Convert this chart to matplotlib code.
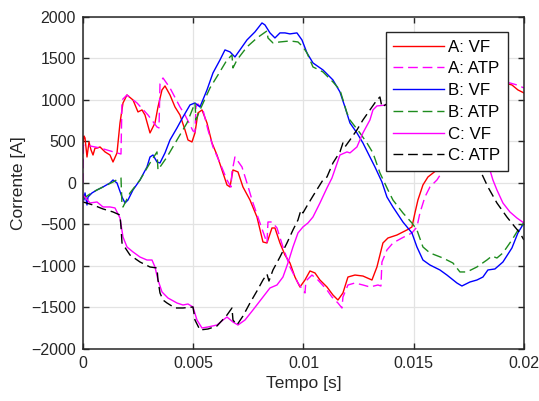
import numpy as np
import matplotlib.pyplot as plt

plt.rcParams['font.family'] = ['Liberation Sans', 'DejaVu Sans']

# time in ms, current in A
a_vf_t = [0, 0.045, 0.091, 0.181, 0.272, 0.363, 0.454, 0.544, 0.635, 0.771, 1.0, 1.224, 1.361, 1.542,
          1.678, 1.814, 1.995, 2.268, 2.494, 2.676, 2.812, 3.039, 3.265, 3.401, 3.583, 3.719, 3.946,
          4.172, 4.399, 4.626, 4.762, 4.943, 5.079, 5.215, 5.397, 5.624, 5.851, 6.077, 6.304, 6.531,
          6.667, 6.803, 7.029, 7.256, 7.574, 7.891, 8.163, 8.345, 8.571, 8.707, 8.934, 9.161, 9.388,
          9.615, 9.841, 10.068, 10.295, 10.522, 10.748, 11.066, 11.338, 11.565, 11.791, 12.018,
          12.336, 12.698, 13.107, 13.333, 13.605, 13.832, 14.240, 14.694, 14.921, 15.057, 15.193,
          15.420, 15.646, 16.054, 16.644, 17.324, 18.005, 18.685, 19.138, 19.456, 19.728, 20.0]
a_vf = [482, 566, 542, 313, 494, 398, 337, 420, 420, 434, 374, 337, 253, 362,
        723, 964, 1060, 1000, 856, 880, 819, 603, 723, 916, 1121, 1169, 1060,
        916, 819, 639, 518, 494, 603, 844, 880, 723, 482, 337, 157, -24,
        -48, 157, 133, -48, -205, -410, -711, -723, -542, -542, -723, -868, -964,
        -1133, -1253, -1169, -1060, -1084, -1169, -1253, -1350, -1410, -1325, -1133,
        -1109, -1121, -1169, -1012, -723, -663, -627, -566, -530, -361, -205,
        -24, 72, 157, 458, 819, 1060, 1181, 1205, 1181, 1121, 1085]

a_atp_t = [0, 0.02, 0.091, 0.771, 1.542, 1.723, 1.769, 1.995, 2.449, 2.948, 3.356, 3.447, 3.492,
           3.628, 3.946, 4.399, 4.626, 4.989, 5.079, 5.125, 5.215, 5.442, 5.669, 5.896, 6.213,
           6.531, 6.712, 6.757, 6.893, 7.211, 7.437, 7.710, 8.027, 8.345, 8.390, 8.571, 8.798,
           9.070, 9.388, 9.751, 10.068, 10.113, 10.385, 10.658, 11.066, 11.293, 11.565, 11.746,
           11.791, 12.018, 12.336, 12.698, 13.016, 13.379, 13.515, 13.560, 13.787, 14.059, 14.467,
           14.921, 15.147, 15.283, 15.510, 15.737, 16.054, 16.644, 17.324, 18.005, 18.549, 18.912,
           19.365, 19.683, 20.0]
a_atp = [0, 458, 458, 422, 362, 349, 1000, 1060, 964, 819, 675, 663, 1193,
         1265, 1145, 916, 819, 627, 615, 916, 952, 880, 639, 434, 241,
         36, -48, 133, 313, 193, 0, -241, -482, -723, -470, -470, -542,
         -771, -1012, -1205, -1325, -1181, -1109, -1169, -1289, -1374, -1446, -1506,
         -1374, -1229, -1205, -1229, -1253, -1229, -1241, -952, -807, -723, -663,
         -602, -530, -361, -169, -48, 36, 277, 699, 1024, 1181, 1217,
         1205, 1181, 1145]

b_vf_t = [0, 0.045, 0.091, 0.181, 0.227, 0.408, 0.635, 0.907, 1.224, 1.361, 1.542, 1.769, 1.905,
          2.041, 2.268, 2.585, 2.902, 3.039, 3.175, 3.356, 3.492, 3.719, 3.946, 4.263, 4.535,
          4.853, 5.079, 5.306, 5.624, 5.896, 6.213, 6.440, 6.667, 6.893, 7.120, 7.437, 7.800,
          8.118, 8.254, 8.481, 8.707, 8.934, 9.161, 9.388, 9.705, 9.932, 10.159, 10.431, 10.884,
          11.338, 11.655, 11.882, 12.109, 12.426, 12.698, 13.016, 13.243, 13.560, 13.787, 14.059,
          14.512, 14.921, 15.147, 15.420, 15.737, 16.190, 16.508, 16.961, 17.188, 17.551, 17.868,
          18.141, 18.367, 18.685, 19.048, 19.456, 19.728, 20.0]
b_vf = [-150, -205, -120, -265, -169, -120, -84, -48, 0, 36, 0, -169, -241,
        -205, -84, 36, 193, 313, 337, 253, 241, 362, 518, 663, 795,
        940, 964, 916, 1121, 1326, 1482, 1603, 1579, 1518, 1603, 1723, 1820,
        1928, 1904, 1808, 1747, 1808, 1808, 1796, 1808, 1723, 1567, 1446, 1362,
        1241, 1097, 916, 723, 603, 482, 313, 193, 12, -169, -289,
        -470, -602, -771, -928, -988, -1048, -1109, -1205, -1241, -1193, -1169,
        -1133, -1048, -1036, -952, -783, -602, -482]

b_atp_t = [0, 0.045, 0.454, 0.907, 1.361, 1.678, 1.723, 1.769, 1.814, 2.131, 2.585, 3.039, 3.356,
           3.401, 3.810, 4.263, 4.717, 5.079, 5.125, 5.306, 5.760, 6.122, 6.531, 6.757, 6.803,
           6.984, 7.437, 7.891, 8.345, 8.390, 8.617, 8.934, 9.388, 9.751, 9.977, 10.159, 10.431,
           10.884, 11.338, 11.655, 11.973, 12.109, 12.562, 12.880, 13.152, 13.469, 13.832, 14.059,
           14.512, 14.921, 15.147, 15.420, 15.737, 16.327, 16.780, 17.098, 17.415, 17.868, 18.322,
           18.549, 18.776, 19.048, 19.456, 19.819, 20.0]
b_atp = [-200, -181, -108, -48, 12, 60, 60, -277, -289, -120, 36, 241, 374,
         157, 313, 518, 723, 964, 759, 880, 1145, 1301, 1482, 1542, 1386,
         1482, 1639, 1747, 1832, 1747, 1687, 1699, 1711, 1699, 1639, 1567, 1398,
         1338, 1217, 1121, 844, 759, 603, 482, 362, 121, -84, -205,
         -361, -482, -566, -771, -843, -904, -964, -1072, -1072, -1012, -928,
         -880, -904, -843, -687, -530, -482]

c_vf_t = [0, 0.317, 0.635, 0.907, 1.224, 1.451, 1.678, 1.814, 1.995, 2.268, 2.585, 2.902, 3.129,
          3.265, 3.401, 3.583, 3.855, 4.263, 4.535, 4.762, 4.989, 5.170, 5.397, 5.669, 6.077,
          6.349, 6.531, 6.803, 7.029, 7.347, 7.710, 8.163, 8.481, 8.798, 9.070, 9.297, 9.524,
          9.751, 9.977, 10.204, 10.431, 10.748, 11.066, 11.293, 11.655, 11.973, 12.109, 12.426,
          12.698, 13.016, 13.152, 13.333, 13.787, 14.376, 15.057, 15.737, 16.644, 17.551, 18.141,
          18.458, 18.594, 18.776, 19.048, 19.365, 19.683, 20.0]
c_vf = [-145, -241, -229, -289, -289, -301, -422, -651, -771, -831, -892, -928, -928,
        -1012, -1169, -1313, -1386, -1446, -1470, -1458, -1494, -1651, -1747, -1735, -1711,
        -1651, -1615, -1675, -1711, -1651, -1530, -1374, -1265, -1229, -1133, -964, -771,
        -602, -530, -482, -410, -241, -60, 60, 337, 374, 362, 434,
        603, 759, 880, 928, 940, 1000, 940, 819, 639, 398, 217,
        157, 36, -84, -241, -349, -422, -482]

c_atp_t = [0, 0.454, 0.907, 1.361, 1.678, 1.723, 1.769, 2.131, 2.585, 3.039, 3.356, 3.401, 3.492,
           3.628, 3.810, 4.172, 4.535, 4.989, 5.079, 5.306, 5.669, 6.077, 6.531, 6.757, 6.803,
           6.984, 7.256, 7.574, 7.891, 8.163, 8.345, 8.435, 8.617, 8.934, 9.252, 9.524, 9.751,
           9.887, 9.977, 10.159, 10.431, 10.658, 10.884, 11.066, 11.338, 11.655, 11.791, 11.882,
           12.109, 12.426, 12.698, 13.016, 13.333, 13.469, 13.560, 13.923, 14.603, 15.283, 16.190,
           17.098, 18.005, 18.367, 18.776, 19.229, 19.592, 19.819, 20.0]
c_atp = [-229, -265, -313, -349, -386, -530, -723, -868, -952, -1012, -1024, -1169, -1325,
         -1410, -1446, -1506, -1506, -1494, -1651, -1771, -1759, -1723, -1591, -1506, -1651,
         -1711, -1603, -1446, -1301, -1169, -1097, -1181, -1048, -892, -723, -566, -446,
         -325, -361, -277, -157, -60, 36, 72, 241, 374, 482, 434,
         518, 639, 759, 880, 1000, 1036, 916, 976, 1000, 904, 699,
         422, 157, -48, -241, -410, -530, -602, -687]

x_ticks = [0, 0.005, 0.01, 0.015, 0.02]
x_tick_labels = ['0', '0.005', '0.01', '0.015', '0.02']
y_ticks = [-2000, -1500, -1000, -500, 0, 500, 1000, 1500, 2000]

fig = plt.figure(figsize=(5.39, 4.01), dpi=100)
ax = fig.add_axes([0.154, 0.1297, 0.818, 0.828])

dash = (0, (7, 3.5))
ms = 1e-3
ax.plot(np.array(a_vf_t) * ms, a_vf, color='#ff0000', lw=1.0, label='A: VF')
ax.plot(np.array(a_atp_t) * ms, a_atp, color='#ff00ff', lw=1.0, linestyle=dash, label='A: ATP')
ax.plot(np.array(b_vf_t) * ms, b_vf, color='#0000ff', lw=1.0, label='B: VF')
ax.plot(np.array(b_atp_t) * ms, b_atp, color='#1e8c1e', lw=1.0, linestyle=dash, label='B: ATP')
ax.plot(np.array(c_vf_t) * ms, c_vf, color='#ff00ff', lw=1.0, label='C: VF')
ax.plot(np.array(c_atp_t) * ms, c_atp, color='#000000', lw=1.0, linestyle=dash, label='C: ATP')

ax.set_xlim(0, 0.02)
ax.set_ylim(-2000, 2000)
ax.set_xticks(x_ticks)
ax.set_xticklabels(x_tick_labels)
ax.set_yticks(y_ticks)
ax.grid(True, color='#e3e3e3', lw=0.9)
ax.set_axisbelow(True)
ax.tick_params(direction='in', top=True, right=True, length=4, width=1,
               labelsize=11.5, colors='#262626', pad=5)
for sp in ax.spines.values():
    sp.set_color('#262626')
    sp.set_linewidth(1.1)

ax.set_xlabel('Tempo [s]', fontsize=12.5, color='#262626', labelpad=4)
ax.set_ylabel('Corrente [A]', fontsize=12.5, color='#262626', labelpad=4)

leg = ax.legend(loc='upper right', bbox_to_anchor=(0.964, 0.955), borderaxespad=0,
                fontsize=12.2, handlelength=3.0, handletextpad=0.25, labelspacing=0.4,
                fancybox=False, framealpha=1, borderpad=0.45)
leg.get_frame().set_edgecolor('#262626')
leg.get_frame().set_linewidth(1.0)

fig.savefig('out.png', dpi=100)
